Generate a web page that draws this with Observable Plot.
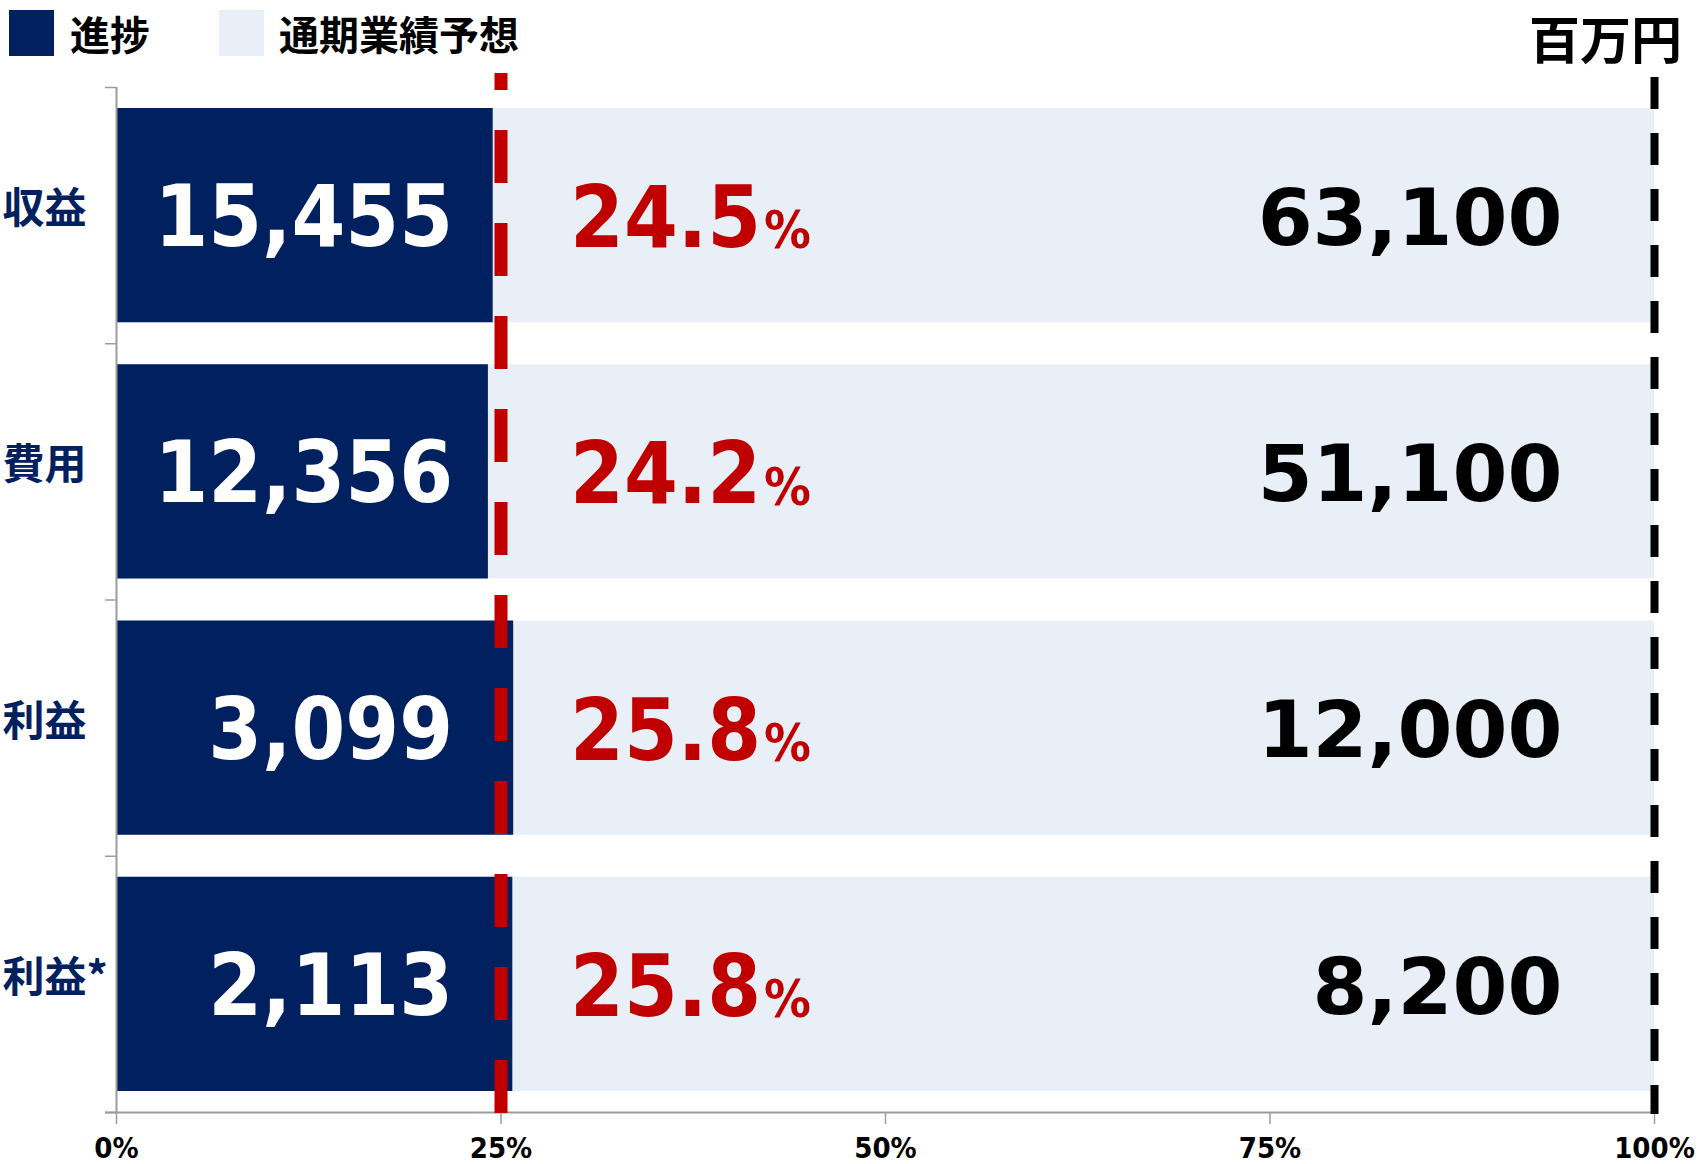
<!DOCTYPE html>
<html>
<head>
<meta charset="utf-8">
<script src="https://cdn.jsdelivr.net/npm/d3@7"></script>
<script src="https://cdn.jsdelivr.net/npm/@observablehq/plot@0.6"></script>
<style>
  html, body { margin: 0; padding: 0; background: #fff; }
  #wrap { width: 1698px; height: 1164px; position: relative; }
  #head { position: relative; height: 66px; width: 1698px; }
  #head .sw { position: absolute; width: 45px; height: 46px; top: 10px; }
  #head .lab { position: absolute; top: 33px; transform: translateY(-50%); font-family: "Noto Sans CJK JP", sans-serif; font-weight: 700; font-size: 40px; color: #000; line-height: 1; white-space: nowrap; }
  #head .unit { position: absolute; right: 16px; top: 37px; transform: translateY(-50%); font-family: "Noto Sans CJK JP", sans-serif; font-weight: 700; font-size: 51px; color: #000; line-height: 1.1; white-space: nowrap; }
</style>
</head>
<body>
<div id="wrap">
  <div id="head"></div>
  <div id="chart"></div>
</div>
<script>
// ---- data ----
const categories = ["収益", "費用", "利益", "利益*"];
const progress = [15455, 12356, 3099, 2113];
const forecast = [63100, 51100, 12000, 8200];
const progressRate = [24.5, 24.2, 25.8, 25.8];
const xTicks = [0, 0.25, 0.5, 0.75, 1];
const target = 0.25;
const legendLabels = ["進捗", "通期業績予想"];
const unitLabel = "百万円";

// ---- styles ----
const NAVY = "#002060";
const LIGHT = "#E9EFF7";
const RED = "#C00000";
const GRAY = "#9c9c9c";
const NUM_FONT = "'DejaVu Sans Condensed', 'DejaVu Sans', sans-serif";
const NUM_FONT_WIDE = "'DejaVu Sans', sans-serif";
const JP_FONT = "'Noto Sans CJK JP', sans-serif";

// ---- header (legend + unit) ----
const head = document.getElementById("head");
const legendColors = [NAVY, LIGHT];
const swX = [9, 219];
const labX = [70, 279];
legendLabels.forEach((l, i) => {
  const sw = document.createElement("div");
  sw.className = "sw";
  sw.style.left = swX[i] + "px";
  sw.style.background = legendColors[i];
  head.appendChild(sw);
  const t = document.createElement("div");
  t.className = "lab";
  t.style.left = labX[i] + "px";
  t.textContent = l;
  head.appendChild(t);
});
const u = document.createElement("div");
u.className = "unit";
u.textContent = unitLabel;
head.appendChild(u);

// ---- chart ----
const rows = categories.map((c, i) => ({
  c, i, p: progress[i], f: forecast[i], r: progressRate[i]
}));
const fmt = d3.format(",");

const chart = Plot.plot({
  width: 1698,
  height: 1098,
  marginTop: 21,
  marginBottom: 52,
  marginLeft: 116,
  marginRight: 44,
  style: { background: "transparent", overflow: "visible" },
  x: { domain: [0, 1] },
  y: { domain: [0, categories.length], reverse: true },
  marks: [
    Plot.rectX(rows, { x1: 0, x2: 1, y1: "i", y2: d => d.i + 1, insetTop: 21, insetBottom: 21, fill: LIGHT }),
    Plot.rectX(rows, { x1: 0, x2: d => d.p / d.f, y1: "i", y2: d => d.i + 1, insetTop: 21, insetBottom: 21, insetLeft: 1, fill: NAVY }),
    Plot.axisY({ ticks: d3.range(categories.length + 1), tickSize: 11, tickFormat: () => "", stroke: GRAY, strokeWidth: 1.5, label: null }),
    Plot.axisX({ ticks: xTicks, tickFormat: d3.format(".0%"), tickSize: 12, tickPadding: 13, fontSize: 29, fontWeight: "bold", fontFamily: NUM_FONT, stroke: GRAY, strokeWidth: 1.5, fill: "#000", label: null }),
    Plot.ruleX([0], { stroke: GRAY, strokeWidth: 2 }),
    Plot.ruleY([categories.length], { stroke: GRAY, strokeWidth: 2, insetLeft: -11, insetRight: -3 }),
    Plot.ruleX([target], { stroke: RED, strokeWidth: 13, strokeDasharray: "53,40", strokeDashoffset: 36, insetTop: -14, insetBottom: -5 }),
    Plot.ruleX([1], { stroke: "#000", strokeWidth: 8, strokeDasharray: "32,24", insetTop: -10, insetBottom: -2 }),
    // category labels
    Plot.text(rows, { x: 0, y: d => d.i + 0.5, text: "c", textAnchor: "start", dx: -114, dy: -6, fill: NAVY, fontSize: 42, fontWeight: "bold", fontFamily: JP_FONT }),
    // progress values (white)
    Plot.text(rows, { x: target, y: d => d.i + 0.5, text: d => fmt(d.p), textAnchor: "end", dx: -48, dy: 3, fill: "#fff", fontSize: 86, fontWeight: "bold", fontFamily: NUM_FONT }),
    // rate numbers (red)
    Plot.text(rows, { x: target, y: d => d.i + 0.5, text: d => d.r.toFixed(1), textAnchor: "end", dx: 260, dy: 4, fill: RED, fontSize: 86, fontWeight: "bold", fontFamily: NUM_FONT }),
    Plot.text(rows, { x: target, y: d => d.i + 0.5, text: () => "%", textAnchor: "start", dx: 263, dy: 16, fill: RED, fontSize: 52, fontWeight: "bold", fontFamily: NUM_FONT }),
    // forecast values (black)
    Plot.text(rows, { x: 1, y: d => d.i + 0.5, text: d => fmt(d.f), textAnchor: "end", dx: -92, dy: 4, fill: "#000", fontSize: 79, fontWeight: "bold", fontFamily: NUM_FONT_WIDE })
  ]
});
document.getElementById("chart").appendChild(chart);
</script>
</body>
</html>
